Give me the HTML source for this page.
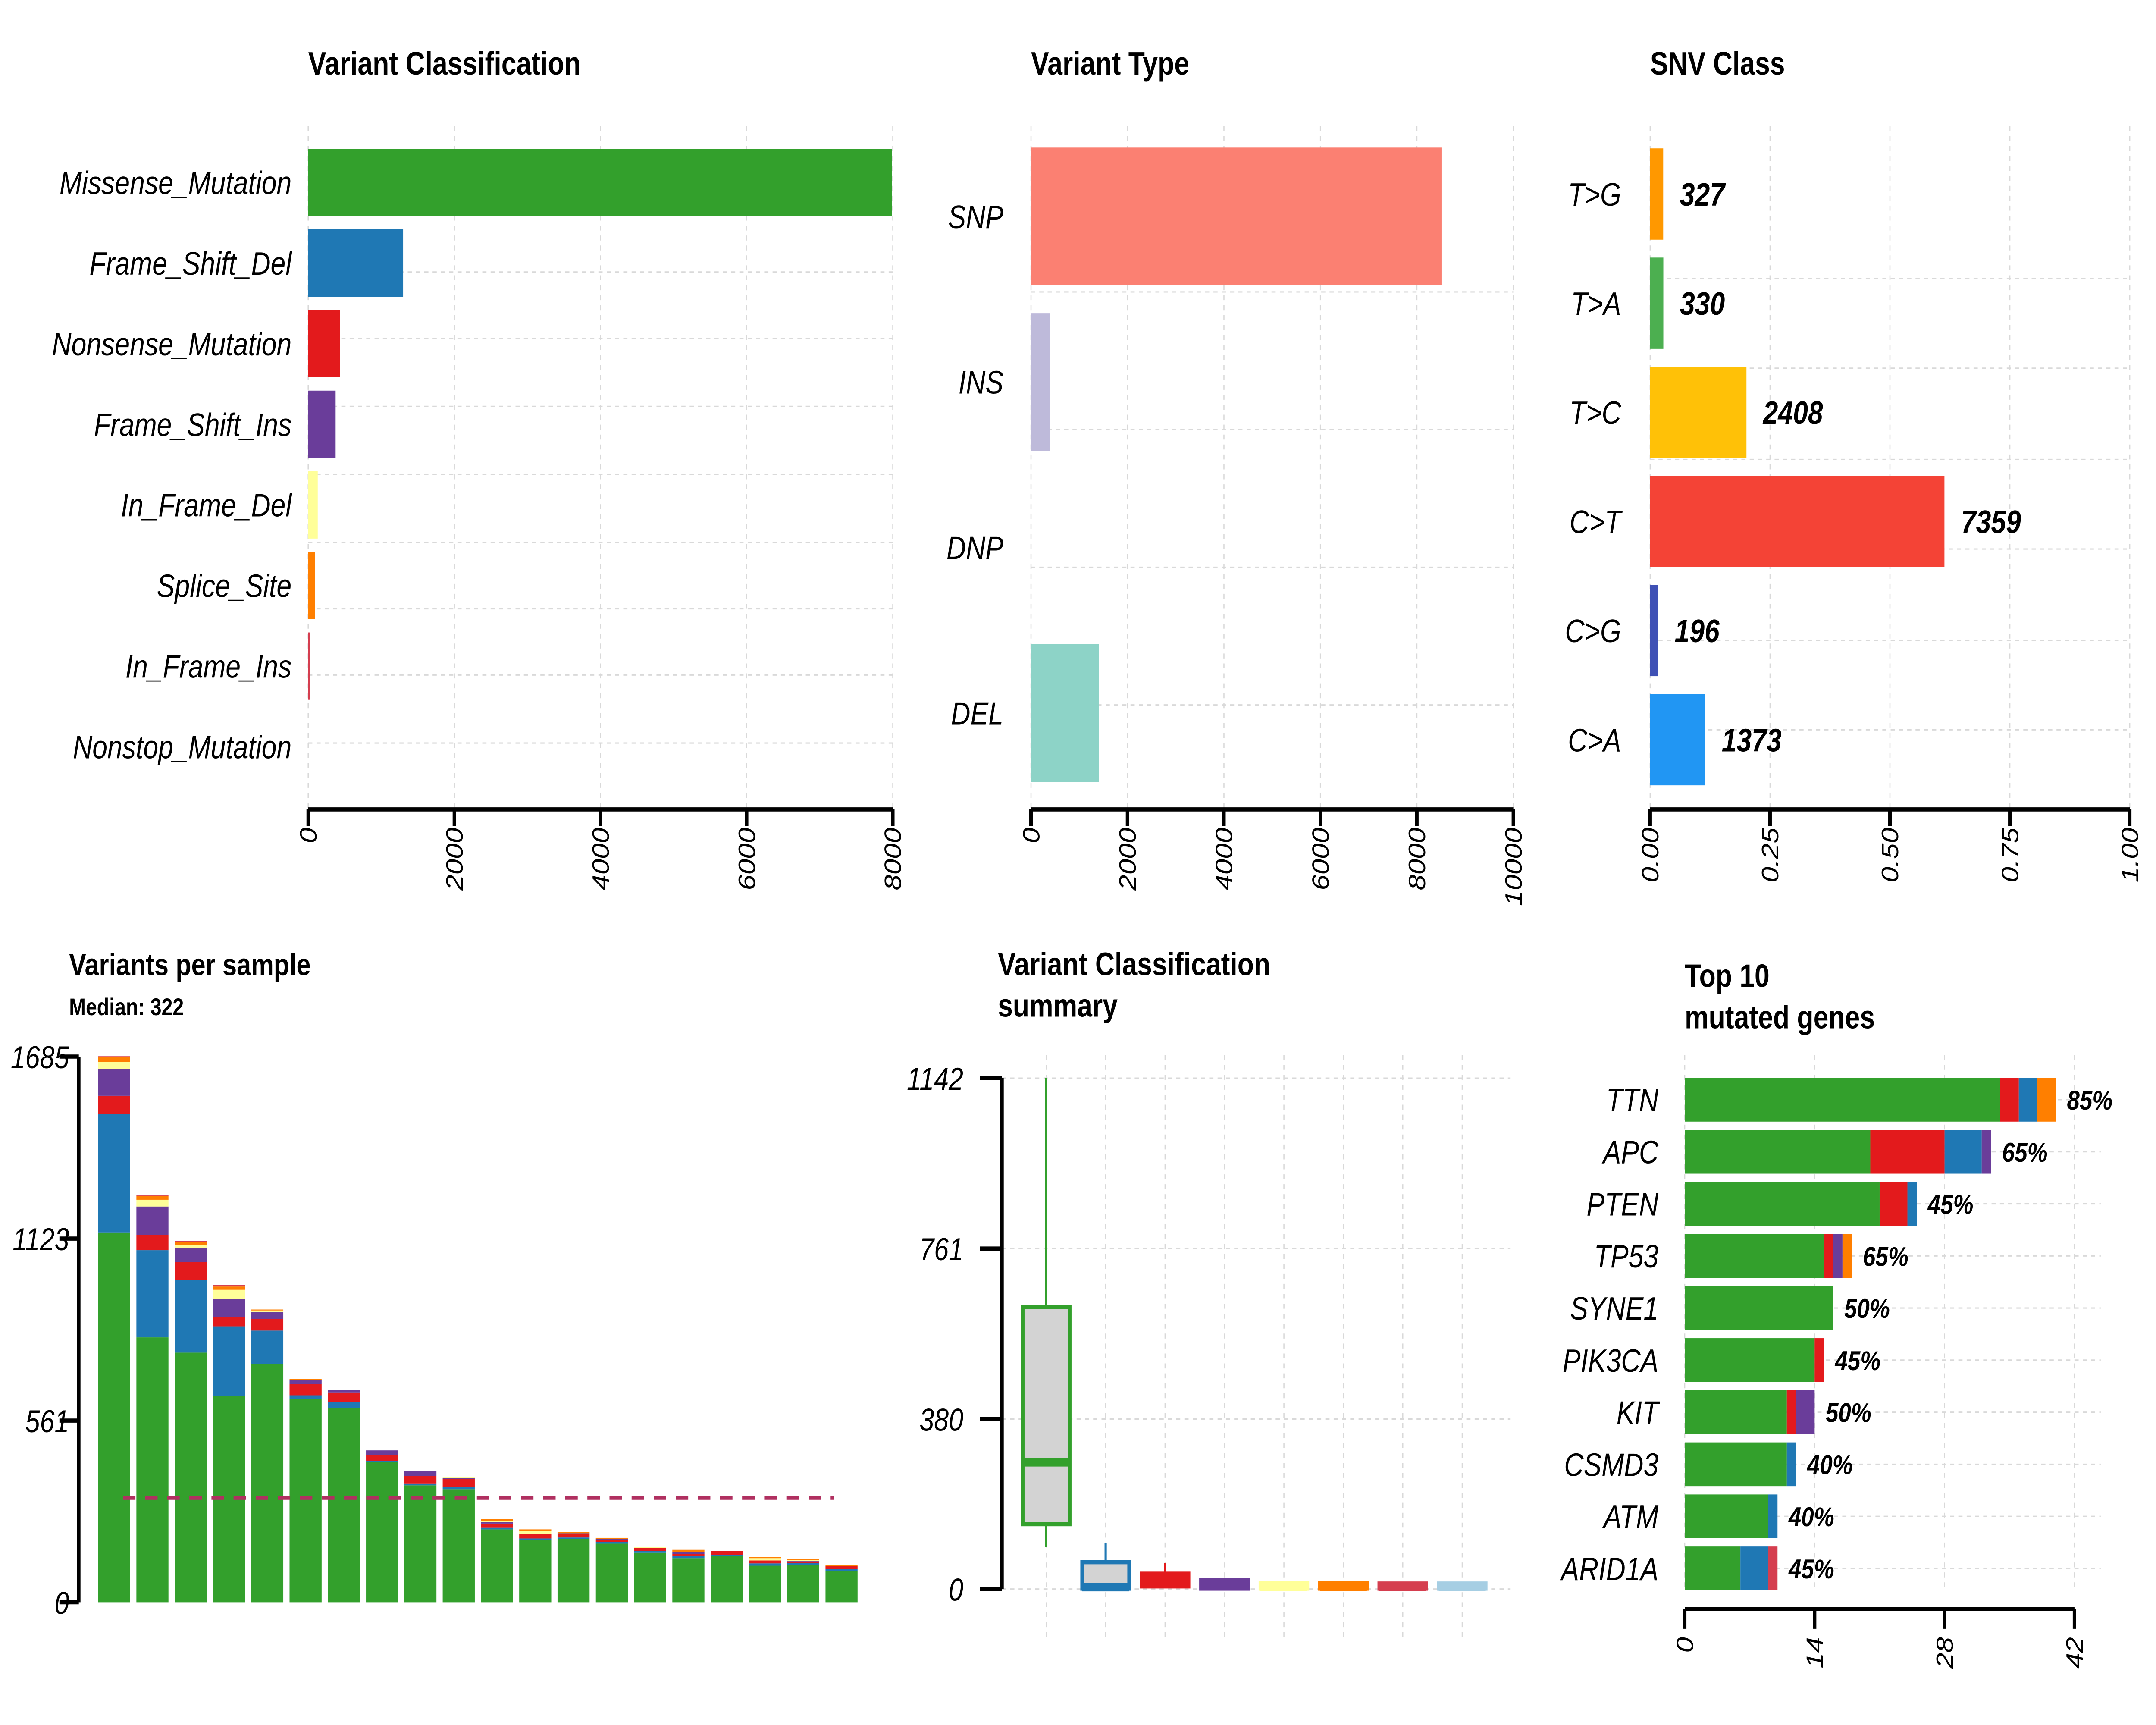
<!DOCTYPE html>
<html><head><meta charset="utf-8"><style>
html,body{margin:0;padding:0;background:#fff;overflow:hidden;width:100%;height:100%}
svg{display:block;width:100vw;height:100vh}
text{font-family:"Liberation Sans",sans-serif}
</style></head><body>
<svg id="s" xmlns="http://www.w3.org/2000/svg" viewBox="0 0 1560 1040" preserveAspectRatio="none">
<rect x="0" y="0" width="1560" height="1040" fill="#fff"/>
</svg>
<script>
// ---------- data ----------
const vcCategories = ["Missense_Mutation","Frame_Shift_Del","Nonsense_Mutation","Frame_Shift_Ins","In_Frame_Del","Splice_Site","In_Frame_Ins","Nonstop_Mutation"];
const vcCounts = [7990, 1300, 435, 375, 130, 90, 30, 0];
const vcTicks = [0, 2000, 4000, 6000, 8000];

const vtCategories = ["SNP","INS","DNP","DEL"];
const vtCounts = [8510, 400, 0, 1410];
const vtTicks = [0, 2000, 4000, 6000, 8000, 10000];

const snvCategories = ["T>G","T>A","T>C","C>T","C>G","C>A"];
const snvCounts = [327, 330, 2408, 7359, 196, 1373];
const snvTicks = [0, 0.25, 0.5, 0.75, 1.0];
const snvTickLabels = ["0.00","0.25","0.50","0.75","1.00"];

// variants per sample (stack order bottom->top)
const vpsMissense = [1142,818,771,636,736,629,600,433,361,349,225,192,196,181,154,136,142,113,116,97];
const vpsFrameShiftDel = [365,269,224,216,103,10,19,4,6,7,5,5,4,5,4,6,5,7,5,5];
const vpsNonsense = [57,48,56,29,36,35,29,17,23,24,13,15,10,6,9,7,11,9,5,10];
const vpsFrameShiftIns = [82,87,44,55,21,12,7,15,16,3,4,0,3,4,1,6,0,0,2,0];
const vpsInFrameDel = [23,21,8,29,5,0,0,0,0,3,5,8,0,0,3,0,0,7,3,0];
const vpsSplice = [14,12,10,10,3,4,0,0,0,0,5,5,4,3,0,7,0,3,2,3];
const vpsInFrameIns = [3,3,3,5,0,0,0,0,0,0,0,0,0,0,0,0,0,0,0,0];
const vpsTicks = [0, 561, 1123, 1685];
const vpsMedian = 322;

// classification summary boxplot stats
const boxClasses = ["Missense_Mutation","Frame_Shift_Del","Nonsense_Mutation","Frame_Shift_Ins","In_Frame_Del","Splice_Site","In_Frame_Ins","Nonstop_Mutation"];
const boxMin = [94, 0, 2, 0, 0, 0, 0, 0];
const boxQ1 = [145, 1, 6, 1, 1, 1, 1, 1];
const boxMedian = [283, 4, 20, 8, 5, 5, 5, 5];
const boxQ3 = [631, 60, 34, 20, 13, 13, 12, 12];
const boxMax = [1142, 102, 58, 22, 14, 14, 12, 12];
const boxTicks = [0, 380, 761, 1142];

// top 10 genes
const genes = ["TTN","APC","PTEN","TP53","SYNE1","PIK3CA","KIT","CSMD3","ATM","ARID1A"];
const gMissense = [34,20,21,15,16,14,11,11,9,6];
const gNonsense = [2,8,3,1,0,1,1,0,0,0];
const gFrameShiftDel = [2,4,1,0,0,0,0,1,1,3];
const gFrameShiftIns = [0,1,0,1,0,0,2,0,0,0];
const gSplice = [2,0,0,1,0,0,0,0,0,0];
const gInFrameIns = [0,0,0,0,0,0,0,0,0,1];
const gPercent = ["85%","65%","45%","65%","50%","45%","50%","40%","40%","45%"];
const geneTicks = [0, 14, 28, 42];

// ---------- helpers ----------
const NS = "http://www.w3.org/2000/svg";
const svg = document.getElementById("s");
const COL = {Missense_Mutation:"#33A02C",Frame_Shift_Del:"#1F78B4",Nonsense_Mutation:"#E31A1C",Frame_Shift_Ins:"#6A3D9A",In_Frame_Del:"#FFFF99",Splice_Site:"#FF7F00",In_Frame_Ins:"#D53E4F",Nonstop_Mutation:"#A6CEE3"};
function el(tag, attrs, parent){ const e=document.createElementNS(NS,tag); for(const k in attrs) e.setAttribute(k,attrs[k]); (parent||svg).appendChild(e); return e; }
function grp(name){ const g=el("g",{});   return g; }
function txt(p, x, y, s, opts){ const t=el("text",Object.assign({x:x,y:y},opts||{}),p); t.textContent=s; return t; }
function dash(p,x1,y1,x2,y2){ return el("line",{x1:x1,y1:y1,x2:x2,y2:y2,stroke:"#d9d9d9","stroke-width":0.8,"stroke-dasharray":"3,3"},p); }

// ---------- Panel 1 ----------
(function(){
  const g = grp("variant-classification-panel");
  const x0=223, x1=646, xmax=8000, yAxis=488;
  const X = v => x0 + v/xmax*(x1-x0);
  const Y = i => 110 + i*48.6;
  const t=txt(g,223,45,"Variant Classification",{"font-weight":"bold","font-size":19.5});
   
  vcTicks.forEach(v=>dash(g,X(v),76,X(v),yAxis));
  [164,204,245,286,327,367,407,448].forEach(y=>dash(g,x0,y,x1,y));
  vcCategories.forEach((c,i)=>{
    if(vcCounts[i]>0){ const r=el("rect",{x:x0,y:Y(i)-20.3,width:X(vcCounts[i])-x0,height:40.6,fill:COL[c]},g);
        }
    const l=txt(g,211,Y(i)+7,c,{"font-style":"italic","font-size":19.5,"text-anchor":"end"});
     
  });
  el("line",{x1:x0,y1:yAxis,x2:x1,y2:yAxis,stroke:"#000","stroke-width":2.5},g);
  vcTicks.forEach(v=>{ el("line",{x1:X(v),y1:yAxis,x2:X(v),y2:yAxis+10,stroke:"#000","stroke-width":2.5},g);
    const l=txt(g,0,0,String(v),{"font-style":"italic","font-size":17,"text-anchor":"end",transform:`translate(${X(v)+6},${yAxis+11}) rotate(-90)`});
      });
})();

// ---------- Panel 2 ----------
(function(){
  const g = grp("variant-type-panel");
  const x0=746, x1=1095, xmax=10000, yAxis=488;
  const X = v => x0 + v/xmax*(x1-x0);
  const Y = i => 130.5 + i*99.8;
  const t=txt(g,746,45,"Variant Type",{"font-weight":"bold","font-size":19.5});
   
  vtTicks.forEach(v=>dash(g,X(v),76,X(v),yAxis));
  [176,259,342,425].forEach(y=>dash(g,x0,y,x1,y));
  const vtCol=["#FB8072","#BEBADA","#FFFFB3","#8DD3C7"];
  vtCategories.forEach((c,i)=>{
    if(vtCounts[i]>0){ const r=el("rect",{x:x0,y:Y(i)-41.5,width:X(vtCounts[i])-x0,height:83,fill:vtCol[i]},g);
        }
    const l=txt(g,726,Y(i)+7,c,{"font-style":"italic","font-size":19.5,"text-anchor":"end"});
     
  });
  el("line",{x1:x0,y1:yAxis,x2:x1,y2:yAxis,stroke:"#000","stroke-width":2.5},g);
  vtTicks.forEach(v=>{ el("line",{x1:X(v),y1:yAxis,x2:X(v),y2:yAxis+10,stroke:"#000","stroke-width":2.5},g);
    const l=txt(g,0,0,String(v),{"font-style":"italic","font-size":17,"text-anchor":"end",transform:`translate(${X(v)+6},${yAxis+11}) rotate(-90)`});
      });
})();

// ---------- Panel 3 ----------
(function(){
  const g = grp("snv-class-panel");
  const x0=1194, x1=1541, yAxis=488;
  const X = v => x0 + v*(x1-x0);
  const Y = i => 117 + i*65.8;
  const total = snvCounts.reduce((a,b)=>a+b,0);
  const t=txt(g,1194,45,"SNV Class",{"font-weight":"bold","font-size":19.5});
   
  snvTicks.forEach(v=>dash(g,X(v),76,X(v),yAxis));
  [168,222,277,331,386,440].forEach(y=>dash(g,x0,y,x1,y));
  const snvCol=["#FF9800","#4CAF50","#FFC107","#F44336","#3F51B5","#2196F3"];
  snvCategories.forEach((c,i)=>{
    const w = X(snvCounts[i]/total)-x0;
    const r=el("rect",{x:x0,y:Y(i)-27.5,width:w,height:55,fill:snvCol[i]},g);
     
    const l=txt(g,1173,Y(i)+7,c,{"font-style":"italic","font-size":19.5,"text-anchor":"end"});
     
    const v=txt(g,x0+w+12,Y(i)+7,String(snvCounts[i]),{"font-style":"italic","font-weight":"bold","font-size":19.5});
     
  });
  el("line",{x1:x0,y1:yAxis,x2:x1,y2:yAxis,stroke:"#000","stroke-width":2.5},g);
  snvTicks.forEach((v,i)=>{ el("line",{x1:X(v),y1:yAxis,x2:X(v),y2:yAxis+10,stroke:"#000","stroke-width":2.5},g);
    const l=txt(g,0,0,snvTickLabels[i],{"font-style":"italic","font-size":17,"text-anchor":"end",transform:`translate(${X(v)+6},${yAxis+11}) rotate(-90)`});
      });
})();

// ---------- Panel 4 ----------
(function(){
  const g = grp("variants-per-sample-panel");
  const y0=966, y1=637, ymax=1685, xAxis=57;
  const Y = v => y0 - v/ymax*(y0-y1);
  const X = i => 71 + i*27.7;
  const bw = 23.2;
  const t=txt(g,50,588,"Variants per sample",{"font-weight":"bold","font-size":18.5});
   
  const s=txt(g,50,612,"Median: "+vpsMedian,{"font-weight":"bold","font-size":14.5});
   
  const series=[[vpsMissense,COL.Missense_Mutation],[vpsFrameShiftDel,COL.Frame_Shift_Del],[vpsNonsense,COL.Nonsense_Mutation],[vpsFrameShiftIns,COL.Frame_Shift_Ins],[vpsInFrameDel,COL.In_Frame_Del],[vpsSplice,COL.Splice_Site],[vpsInFrameIns,COL.In_Frame_Ins]];
  vpsMissense.forEach((_,i)=>{
    let acc=0;
    series.forEach(([arr,c])=>{
      const v=arr[i]; if(v<=0) return;
      const r=el("rect",{x:X(i),y:Y(acc+v),width:bw,height:Y(acc)-Y(acc+v),fill:c},g);
       
      acc+=v;
    });
  });
  const m=el("line",{x1:89,y1:Y(vpsMedian),x2:X(19)+bw-17,y2:Y(vpsMedian),stroke:"#B03060","stroke-width":2.2,"stroke-dasharray":"9,7"},g);
   
  el("line",{x1:xAxis,y1:y1,x2:xAxis,y2:y0,stroke:"#000","stroke-width":2.5},g);
  vpsTicks.forEach(v=>{ el("line",{x1:xAxis-14,y1:Y(v),x2:xAxis,y2:Y(v),stroke:"#000","stroke-width":2.5},g);
    const l=txt(g,50,Y(v)+7,String(v),{"font-style":"italic","font-size":19,"text-anchor":"end"});
      });
})();

// ---------- Panel 5 ----------
(function(){
  const g = grp("variant-classification-summary-panel");
  const y0=958, y1=650, ymax=1142, xAxis=725;
  const Y = v => y0 - v/ymax*(y0-y1);
  const X = i => 757 + i*43;
  const t1=txt(g,722,588,"Variant Classification",{"font-weight":"bold","font-size":19.5});
   
  txt(g,722,613,"summary",{"font-weight":"bold","font-size":19.5});
  boxClasses.forEach((_,i)=>dash(g,X(i),636,X(i),990));
  boxTicks.forEach(v=>dash(g,xAxis,Y(v),1093,Y(v)));
  boxClasses.forEach((c,i)=>{
    const col=COL[c], cx=X(i), hw=17;
    const bg=el("g",{},g);  
    el("line",{x1:cx,y1:Y(boxMax[i]),x2:cx,y2:Y(boxMin[i]),stroke:col,"stroke-width":1.6},bg);
    el("rect",{x:cx-hw,y:Y(boxQ3[i]),width:2*hw,height:Math.max(Y(boxQ1[i])-Y(boxQ3[i]),0.5),fill:"#D3D3D3",stroke:col,"stroke-width":2.6},bg);
    el("line",{x1:cx-hw,y1:Y(boxMedian[i]),x2:cx+hw,y2:Y(boxMedian[i]),stroke:col,"stroke-width":5},bg);
  });
  el("line",{x1:xAxis,y1:y1,x2:xAxis,y2:y0,stroke:"#000","stroke-width":2.5},g);
  boxTicks.forEach(v=>{ el("line",{x1:xAxis-16,y1:Y(v),x2:xAxis,y2:Y(v),stroke:"#000","stroke-width":2.5},g);
    const l=txt(g,697,Y(v)+7,String(v),{"font-style":"italic","font-size":19,"text-anchor":"end"});
      });
})();

// ---------- Panel 6 ----------
(function(){
  const g = grp("top-mutated-genes-panel");
  const x0=1219, x1=1501, xmax=42, yAxis=970;
  const X = v => x0 + v/xmax*(x1-x0);
  const Y = i => 663 + i*31.4;
  const t1=txt(g,1219,595,"Top 10",{"font-weight":"bold","font-size":19.5});
   
  txt(g,1219,620,"mutated genes",{"font-weight":"bold","font-size":19.5});
  geneTicks.forEach(v=>dash(g,X(v),636,X(v),958));
  genes.forEach((_,i)=>dash(g,x0,Y(i),1520,Y(i)));
  const series=[[gMissense,COL.Missense_Mutation],[gNonsense,COL.Nonsense_Mutation],[gFrameShiftDel,COL.Frame_Shift_Del],[gFrameShiftIns,COL.Frame_Shift_Ins],[gSplice,COL.Splice_Site],[gInFrameIns,COL.In_Frame_Ins]];
  genes.forEach((gn,i)=>{
    let acc=0;
    series.forEach(([arr,c])=>{ const v=arr[i]; if(v<=0) return;
      const r=el("rect",{x:X(acc),y:Y(i)-13.2,width:X(acc+v)-X(acc),height:26.4,fill:c},g);
       
      acc+=v; });
    const l=txt(g,1200,Y(i)+7,gn,{"font-style":"italic","font-size":19.5,"text-anchor":"end"});
     
    const p=txt(g,X(acc)+8,Y(i)+6,gPercent[i],{"font-style":"italic","font-weight":"bold","font-size":16.5});
     
  });
  el("line",{x1:x0,y1:yAxis,x2:x1,y2:yAxis,stroke:"#000","stroke-width":2.5},g);
  geneTicks.forEach(v=>{ el("line",{x1:X(v),y1:yAxis,x2:X(v),y2:yAxis+12,stroke:"#000","stroke-width":2.5},g);
    const l=txt(g,0,0,String(v),{"font-style":"italic","font-size":17,"text-anchor":"end",transform:`translate(${X(v)+6},${yAxis+17}) rotate(-90)`});
      });
})();
</script>
</body></html>
